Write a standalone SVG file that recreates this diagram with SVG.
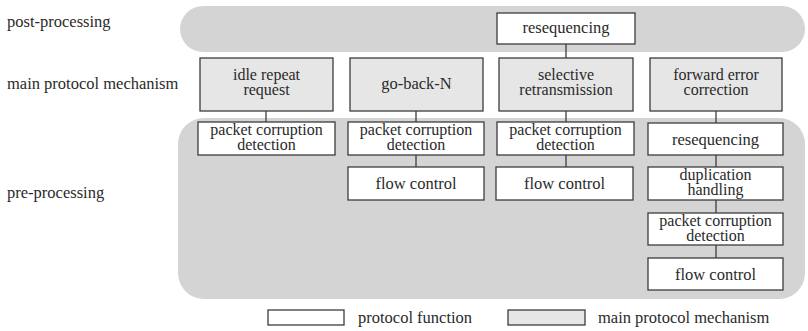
<svg xmlns="http://www.w3.org/2000/svg" width="808" height="331" viewBox="0 0 808 331">
<defs>
<style>
text{font-family:"Liberation Serif","DejaVu Serif","Times New Roman",serif;font-size:16.5px;fill:#2a2a2a}
.c{text-anchor:middle}
.t{font-size:16px}
.band{fill:#d4d4d4}
.fn{fill:#ffffff;stroke:#3c3c3c;stroke-width:1.3}
.mm{fill:#e6e6e6;stroke:#3c3c3c;stroke-width:1.3}
.ln{stroke:#3c3c3c;stroke-width:1.3;fill:none}
</style>
</defs>
<rect width="808" height="331" fill="#ffffff"/>
<g id="bands">
<rect class="band" x="180" y="6" width="625" height="46" rx="23"/>
<rect class="band" x="178" y="118" width="627" height="181" rx="26"/>
</g>
<g id="labels">
<text x="7" y="27">post-processing</text>
<text x="7" y="89">main protocol mechanism</text>
<text x="7" y="198">pre-processing</text>
</g>
<g id="connectors">
<line class="ln" x1="266" y1="111" x2="266" y2="122"/>
<line class="ln" x1="416" y1="111" x2="416" y2="122"/>
<line class="ln" x1="416" y1="155" x2="416" y2="167"/>
<line class="ln" x1="566" y1="44" x2="566" y2="58"/>
<line class="ln" x1="566" y1="111" x2="566" y2="122"/>
<line class="ln" x1="566" y1="155" x2="566" y2="167"/>
<line class="ln" x1="716" y1="111" x2="716" y2="123"/>
<line class="ln" x1="716" y1="155" x2="716" y2="167"/>
<line class="ln" x1="716" y1="200" x2="716" y2="213"/>
<line class="ln" x1="716" y1="245" x2="716" y2="258"/>
</g>
<g id="n-reseq-top">
<rect class="fn" x="497" y="13" width="138" height="31"/>
<text class="c" x="566" y="33">resequencing</text>
</g>
<g id="n-irr">
<rect class="mm" x="200" y="58" width="133" height="53"/>
<text class="c t" x="266.5" y="79.5">idle repeat</text>
<text class="c t" x="266.5" y="95">request</text>
</g>
<g id="n-gbn">
<rect class="mm" x="350" y="58" width="133" height="53"/>
<text class="c" x="416.5" y="89">go-back-N</text>
</g>
<g id="n-sr">
<rect class="mm" x="499" y="58" width="134" height="53"/>
<text class="c t" x="566" y="79.5">selective</text>
<text class="c t" x="566" y="95">retransmission</text>
</g>
<g id="n-fec">
<rect class="mm" x="650" y="58" width="132" height="53"/>
<text class="c t" x="716" y="79.5">forward error</text>
<text class="c t" x="716" y="95">correction</text>
</g>
<g id="n-pcd1">
<rect class="fn" x="198" y="122" width="137" height="33"/>
<text class="c t" x="266.5" y="134.5">packet corruption</text>
<text class="c t" x="266.5" y="150">detection</text>
</g>
<g id="n-pcd2">
<rect class="fn" x="348" y="122" width="136" height="33"/>
<text class="c t" x="416" y="134.5">packet corruption</text>
<text class="c t" x="416" y="150">detection</text>
</g>
<g id="n-pcd3">
<rect class="fn" x="497" y="122" width="137" height="33"/>
<text class="c t" x="565.5" y="134.5">packet corruption</text>
<text class="c t" x="565.5" y="150">detection</text>
</g>
<g id="n-reseq-fec">
<rect class="fn" x="648" y="123" width="135" height="32"/>
<text class="c" x="715.5" y="145">resequencing</text>
</g>
<g id="n-fc2">
<rect class="fn" x="348" y="167" width="136" height="33"/>
<text class="c" x="416" y="189">flow control</text>
</g>
<g id="n-fc3">
<rect class="fn" x="496" y="167" width="137" height="33"/>
<text class="c" x="564.5" y="189">flow control</text>
</g>
<g id="n-dup">
<rect class="fn" x="648" y="167" width="135" height="33"/>
<text class="c t" x="715.5" y="179.5">duplication</text>
<text class="c t" x="715.5" y="195">handling</text>
</g>
<g id="n-pcd4">
<rect class="fn" x="648" y="213" width="135" height="32"/>
<text class="c t" x="715.5" y="225.5">packet corruption</text>
<text class="c t" x="715.5" y="241">detection</text>
</g>
<g id="n-fc4">
<rect class="fn" x="648" y="258" width="135" height="32"/>
<text class="c" x="715.5" y="280">flow control</text>
</g>
<g id="legend">
<rect class="fn" x="268" y="310" width="76" height="15" stroke-width="1"/>
<text x="358" y="323">protocol function</text>
<rect class="mm" x="508" y="310" width="77" height="15" stroke-width="1"/>
<text x="598" y="323">main protocol mechanism</text>
</g>
</svg>
